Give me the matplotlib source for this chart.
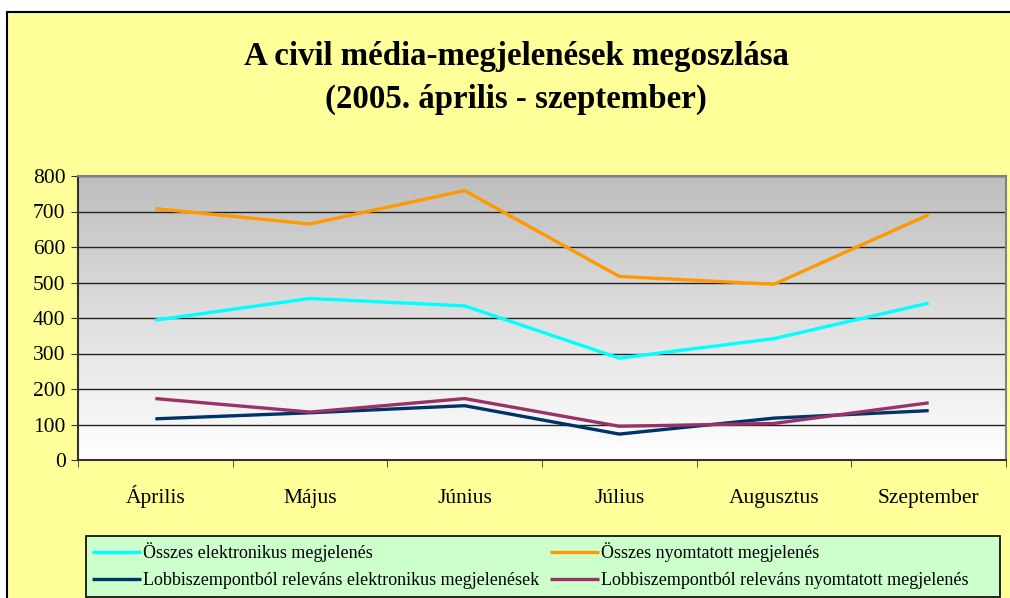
import matplotlib.pyplot as plt
import numpy as np
from matplotlib.patches import Rectangle
from matplotlib.colors import LinearSegmentedColormap

# data
months = ['Április', 'Május', 'Június', 'Július', 'Augusztus', 'Szeptember']
osszes_elektr = [394, 455, 434, 287, 342, 442]
osszes_nyomt = [708, 665, 759, 517, 495, 691]
lobbi_elektr = [116, 133, 153, 73, 118, 139]
lobbi_nyomt = [173, 135, 173, 95, 103, 161]

labels = ['Összes elektronikus megjelenés',
          'Összes nyomtatott megjelenés',
          'Lobbiszempontból releváns elektronikus megjelenések',
          'Lobbiszempontból releváns nyomtatott megjelenés']
colors = ['#00FFFF', '#FF9900', '#003366', '#993366']

plt.rcParams['font.family'] = ['Liberation Serif', 'DejaVu Serif']

W, H = 1010, 598
fig = plt.figure(figsize=(W/100, H/100), dpi=100)
fig.patch.set_facecolor('white')

# yellow chart area with black frame (runs off the right/bottom edge)
fig.patches.append(Rectangle((7/W, -0.01), 1.1, 1 - 12/H + 0.01, transform=fig.transFigure,
                             facecolor='#FFFF99', edgecolor='black', lw=1.5, zorder=-5))
# legend box
fig.patches.append(Rectangle((86/W, 1 - 597/H), 914/W, 61/H, transform=fig.transFigure,
                             facecolor='#CCFFCC', edgecolor='black', lw=1.2, zorder=-4))

fig.text(516/W, 1 - 57/H, 'A civil média-megjelenések megoszlása', ha='center', va='center',
         fontsize=23.7, fontweight='bold')
fig.text(516/W, 1 - 99/H, '(2005. április - szeptember)', ha='center', va='center',
         fontsize=23.7, fontweight='bold')

ax = fig.add_axes([78/W, 1 - 460/H, 928/W, 284/H])
ax.set_facecolor('none')

# gray (top) to white (bottom) gradient plot area
grad = np.linspace(0, 1, 256).reshape(-1, 1)
cm = LinearSegmentedColormap.from_list('g', ['#FFFFFF', '#BEBEBE'])
ax.imshow(grad, cmap=cm, extent=[-0.5, 5.5, 0, 800], origin='lower', aspect='auto',
          zorder=0, interpolation='bilinear')

x = np.arange(len(months))
series = [osszes_elektr, osszes_nyomt, lobbi_elektr, lobbi_nyomt]
lines = []
for s, c, l in zip(series, colors, labels):
    ln, = ax.plot(x, s, color=c, lw=2.4, label=l, zorder=3, solid_capstyle='butt')
    lines.append(ln)

ax.set_xlim(-0.5, 5.5)
ax.set_ylim(0, 800)
ax.set_yticks(range(0, 801, 100))
ax.yaxis.grid(True, color='#222222', lw=1)
for gl in ax.get_ygridlines():
    gl.set_zorder(1)

ax.set_xticks(x)
ax.set_xticklabels(months)
ax.set_xticks(np.arange(-0.5, 6, 1), minor=True)
ax.tick_params(axis='x', which='major', length=0, pad=31, labelsize=15.5)
for t in ax.get_xticklabels():
    t.set_verticalalignment('baseline')
ax.tick_params(axis='x', which='minor', length=5, direction='out', color='#333333',
               labelbottom=False)
ax.tick_params(axis='y', length=5, direction='out', labelsize=15.5, pad=4, color='#333333')

for side in ['top', 'right']:
    ax.spines[side].set_color('#808080')
    ax.spines[side].set_linewidth(1.5)
for side in ['left', 'bottom']:
    ax.spines[side].set_color('#333333')
    ax.spines[side].set_linewidth(1.5)

order = [0, 2, 1, 3]
leg = fig.legend([lines[i] for i in order], [labels[i] for i in order], ncol=2,
                 loc='upper left', bbox_to_anchor=(86/W, 1 - 536/H),
                 fontsize=13, handlelength=2.7, handletextpad=0.1,
                 borderaxespad=0, borderpad=0.35, labelspacing=0.55, columnspacing=0.6,
                 frameon=False)

fig.savefig('out.png', dpi=100, facecolor=fig.get_facecolor())
